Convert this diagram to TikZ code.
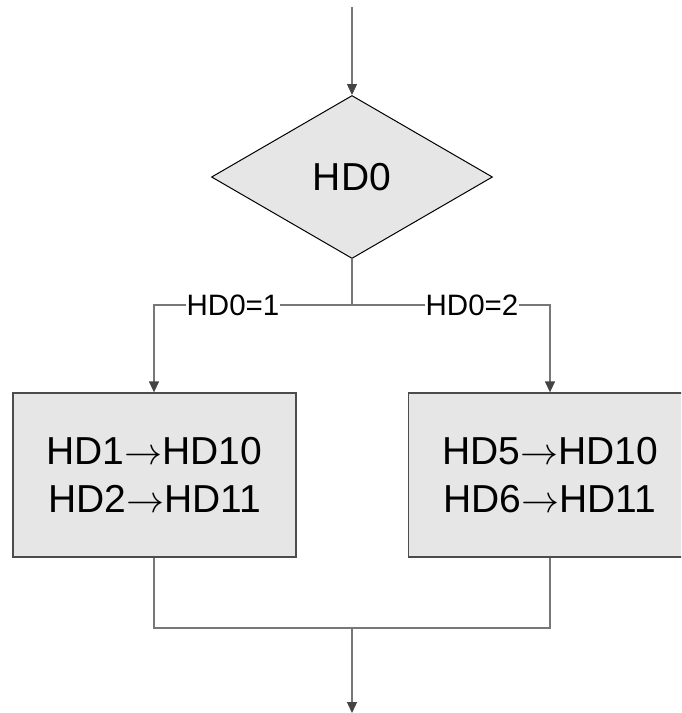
\documentclass[tikz,border=0pt]{standalone}
\usepackage{graphicx}
\usepackage{fontspec}
\setmainfont{Liberation Sans}
\usetikzlibrary{shapes.geometric,arrows.meta}
\newcommand\rarrglyph{{\fontsize{10}{12}\selectfont\scalebox{3.8}{$\rightarrow$}}}
\definecolor{linegray}{HTML}{777777}
\definecolor{boxfill}{HTML}{E6E6E6}
\definecolor{tipgray}{HTML}{444444}
\tikzset{
  conn/.style={draw=linegray, line width=1.3pt},
  arr/.style={conn, -{Triangle[length=11pt,width=10pt,color=tipgray]}},
  decision/.style={shape=diamond, draw=black, line width=1pt, fill=boxfill, inner sep=0pt,
    minimum width=281pt, minimum height=163pt, font=\fontsize{39}{47}\selectfont},
  procbox/.style={rectangle, draw=black!70, line width=1.3pt, fill=boxfill, inner sep=0pt,
    minimum width=283pt, minimum height=164pt, align=center, font=\fontsize{39}{49}\selectfont},
  lbl/.style={fill=white, inner sep=1pt, font=\fontsize{29.5}{33}\selectfont}
}
\begin{document}
\begin{tikzpicture}[x=1pt,y=-1pt]
\useasboundingbox (0,0) rectangle (681,713);
\clip (0,0) rectangle (681,713);
\coordinate (top) at (352,7);
\node[decision] (d) at (352,177) {HD0};
\coordinate (j) at (352,305);
\coordinate (jl) at (154,305);
\coordinate (jr) at (550,305);
\node[procbox] (b1) at (154.5,475) {HD1\rarrglyph HD10\\[-1pt]HD2\rarrglyph HD11};
\node[procbox] (b2) at (550,475) {HD5\rarrglyph HD10\\[-1pt]HD6\rarrglyph HD11};
\coordinate (ml) at (154,628);
\coordinate (mr) at (550,628);
\coordinate (mc) at (352,628);
\coordinate (bot) at (352,713);

\draw[arr] (top) -- (d.north);
\draw[conn] (d.south) -- (j);
\draw[arr] (j) -- (jl) -- (b1.north -| jl);
\draw[arr] (j) -- (jr) -- (b2.north -| jr);
\node[lbl] (l1) at (233,305) {HD0=1};
\node[lbl] (l2) at (472,305) {HD0=2};
\draw[conn] (b1.south -| ml) -- (ml) -- (mr) -- (b2.south -| mr);
\draw[arr] (mc) -- (bot);
\end{tikzpicture}
\end{document}
